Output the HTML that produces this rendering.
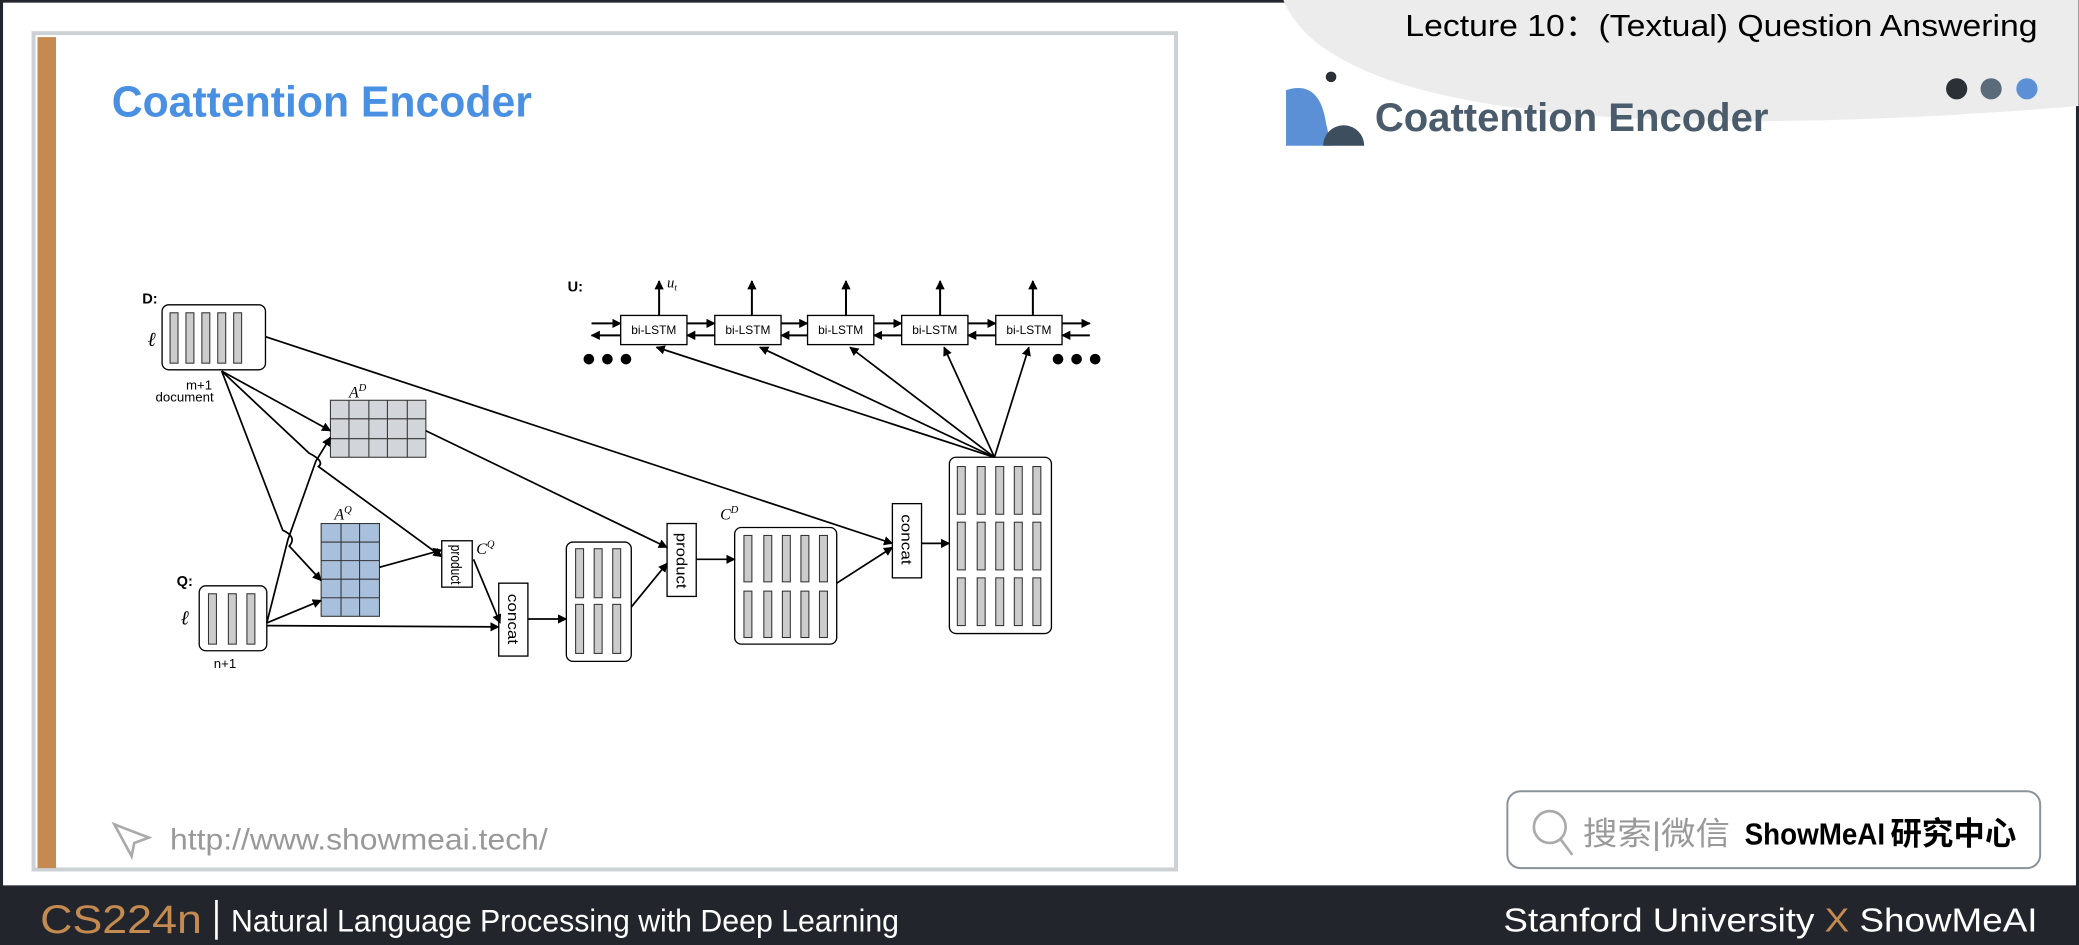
<!DOCTYPE html>
<html><head><meta charset="utf-8"><style>
html,body{margin:0;padding:0;background:#fff;overflow:hidden}
svg{display:block}
text{font-family:"Liberation Sans","Noto Sans CJK SC",sans-serif}
</style></head><body>
<svg width="2079" height="945" viewBox="0 0 1568 713" xmlns="http://www.w3.org/2000/svg">
<defs>
<marker id="ah" viewBox="0 0 10 10" refX="9" refY="5" markerWidth="7" markerHeight="7" orient="auto-start-reverse" markerUnits="userSpaceOnUse"><path d="M0,0 L10,5 L0,10 z" fill="#000"/></marker>
</defs>
<rect width="1568" height="713" fill="#fff"/>
<rect x="0" y="0" width="1568" height="713" fill="none" stroke="#22262c" stroke-width="4"/>
<path d="M968,0 C1000,80 1200,110 1568,80 L1568,0 z" fill="#ececec"/>
<text x="1060" y="27" textLength="477" lengthAdjust="spacingAndGlyphs" font-size="23" fill="#000">Lecture 10：(Textual) Question Answering</text>
<circle cx="1476" cy="67" r="8" fill="#2b2f36"/>
<circle cx="1502" cy="67" r="8" fill="#5b6b7a"/>
<circle cx="1529" cy="67" r="8" fill="#5b90d6"/>
<path d="M970,110 L970,68 Q995,60 1000,92 L1004,110 z" fill="#5b90d6"/>
<path d="M998,110 A15,15 0 0 1 1029,110 z" fill="#3d4f5f"/>
<circle cx="1004" cy="58" r="4" fill="#2b2f36"/>
<text x="1037" y="99" textLength="297" lengthAdjust="spacingAndGlyphs" font-size="30" font-weight="bold" fill="#4a5c6c">Coattention Encoder</text>
<rect x="25" y="25" width="862" height="631" fill="#fff" stroke="#ccd1d5" stroke-width="3"/>
<rect x="28" y="28" width="14" height="627" fill="#c48a4f"/>
<text x="84" y="88" textLength="317" lengthAdjust="spacingAndGlyphs" font-size="33" font-weight="bold" fill="#4a90e2">Coattention Encoder</text>
<path d="M86,622 L112,632 L101,636 L99,646 z" fill="none" stroke="#aaa" stroke-width="2"/>
<text x="128" y="641" textLength="285" lengthAdjust="spacingAndGlyphs" font-size="22" fill="#999">http://www.showmeai.tech/</text>
<rect x="1137" y="597" width="402" height="58" rx="10" fill="#fff" stroke="#8a939b" stroke-width="1.5"/>
<circle cx="1169" cy="624" r="12" fill="none" stroke="#aaa" stroke-width="2"/>
<line x1="1177" y1="633" x2="1186" y2="645" stroke="#aaa" stroke-width="2"/>
<text x="1194" y="637" textLength="111" lengthAdjust="spacingAndGlyphs" font-size="24" fill="#999">搜索|微信</text>
<text x="1316" y="637" textLength="106" lengthAdjust="spacingAndGlyphs" font-size="23" font-weight="bold" fill="#000">ShowMeAI</text>
<text x="1426" y="637" textLength="95" lengthAdjust="spacingAndGlyphs" font-size="24" font-weight="bold" fill="#000">研究中心</text>
<rect x="0" y="668" width="1568" height="45" fill="#22262c"/>
<text x="30" y="704" textLength="122" lengthAdjust="spacingAndGlyphs" font-size="30" fill="#c48a4f">CS224n</text>
<rect x="162" y="679" width="2" height="30" fill="#fff"/>
<text x="174" y="703" textLength="504" lengthAdjust="spacingAndGlyphs" font-size="24" fill="#fff">Natural Language Processing with Deep Learning</text>
<text x="1134" y="703" textLength="403" lengthAdjust="spacingAndGlyphs" font-size="25" fill="#fff">Stanford University <tspan fill="#c48a4f">X</tspan> ShowMeAI</text>

<g font-size="9" fill="#000">
<text x="107" y="229" font-weight="bold" font-size="11">D:</text>
<text x="111" y="261" font-style="italic" font-size="15" style="font-family:'Liberation Serif',serif">ℓ</text>
<text x="140" y="294" font-size="10">m+1</text>
<text x="117" y="303" font-size="10">document</text>
<text x="133" y="442" font-weight="bold" font-size="11">Q:</text>
<text x="136" y="471" font-style="italic" font-size="15" style="font-family:'Liberation Serif',serif">ℓ</text>
<text x="161" y="504" font-size="10">n+1</text>
<text x="428" y="220" font-weight="bold" font-size="11">U:</text>
<text x="503" y="217" font-style="italic" font-size="11" style="font-family:'Liberation Serif',serif">u<tspan font-size="7" dy="2">t</tspan></text>
<text x="263" y="300" font-style="italic" font-size="12" style="font-family:'Liberation Serif',serif">A<tspan font-size="8" dy="-5">D</tspan></text>
<text x="252" y="392" font-style="italic" font-size="12" style="font-family:'Liberation Serif',serif">A<tspan font-size="8" dy="-5">Q</tspan></text>
<text x="359" y="418" font-style="italic" font-size="12" style="font-family:'Liberation Serif',serif">C<tspan font-size="8" dy="-5">Q</tspan></text>
<text x="543" y="392" font-style="italic" font-size="12" style="font-family:'Liberation Serif',serif">C<tspan font-size="8" dy="-5">D</tspan></text>
</g>
<g stroke="#000" fill="none" stroke-width="1">
<rect x="122" y="230" width="78" height="49" rx="5" fill="#fff"/>
<rect x="150" y="442" width="51" height="49" rx="5" fill="#fff"/>
<rect x="427" y="409" width="49" height="90" rx="5" fill="#fff"/>
<rect x="554" y="398" width="77" height="88" rx="5" fill="#fff"/>
<rect x="716" y="345" width="77" height="133" rx="5" fill="#fff"/>
<rect x="333" y="408" width="23" height="35" fill="#fff"/>
<rect x="376" y="440" width="22" height="55" fill="#fff"/>
<rect x="503" y="395" width="22" height="55" fill="#fff"/>
<rect x="673" y="380" width="22" height="56" fill="#fff"/>
</g>
<g fill="#ccc" stroke="#333" stroke-width="0.8">
<rect x="128" y="236" width="6" height="38"/><rect x="140" y="236" width="6" height="38"/><rect x="152" y="236" width="6" height="38"/><rect x="164" y="236" width="6" height="38"/><rect x="176" y="236" width="6" height="38"/>
<rect x="157" y="448" width="6" height="38"/><rect x="172" y="448" width="6" height="38"/><rect x="186" y="448" width="6" height="38"/>
<rect x="434" y="414" width="6" height="37"/><rect x="448" y="414" width="6" height="37"/><rect x="462" y="414" width="6" height="37"/>
<rect x="434" y="456" width="6" height="37"/><rect x="448" y="456" width="6" height="37"/><rect x="462" y="456" width="6" height="37"/>
<rect x="561" y="404" width="6" height="35"/><rect x="576" y="404" width="6" height="35"/><rect x="590" y="404" width="6" height="35"/><rect x="604" y="404" width="6" height="35"/><rect x="618" y="404" width="6" height="35"/>
<rect x="561" y="446" width="6" height="35"/><rect x="576" y="446" width="6" height="35"/><rect x="590" y="446" width="6" height="35"/><rect x="604" y="446" width="6" height="35"/><rect x="618" y="446" width="6" height="35"/>
<g id="bigrow"><rect x="722" y="352" width="6" height="36"/><rect x="737" y="352" width="6" height="36"/><rect x="751" y="352" width="6" height="36"/><rect x="765" y="352" width="6" height="36"/><rect x="779" y="352" width="6" height="36"/></g>
<use href="#bigrow" y="42"/><use href="#bigrow" y="84"/>
</g>
<g stroke="#333" stroke-width="0.8">
<rect x="249" y="302" width="72" height="43" fill="#d2d6da"/>
<path d="M263,302V345M278,302V345M292,302V345M307,302V345M249,316H321M249,331H321" fill="none"/>
<rect x="242" y="395" width="44" height="70" fill="#a9c0dd"/>
<path d="M257,395V465M271,395V465M242,409H286M242,423H286M242,437H286M242,451H286" fill="none"/>
</g>
<g font-size="11" fill="#000">
<text transform="translate(340,411) rotate(90)" textLength="30" lengthAdjust="spacingAndGlyphs">product</text>
<text transform="translate(383,448) rotate(90)" textLength="38" lengthAdjust="spacingAndGlyphs">concat</text>
<text transform="translate(510,402) rotate(90)" textLength="42" lengthAdjust="spacingAndGlyphs">product</text>
<text transform="translate(680,388) rotate(90)" textLength="38" lengthAdjust="spacingAndGlyphs">concat</text>
</g>
<g stroke="#000" fill="#fff" stroke-width="1">
<rect x="468" y="238" width="50" height="22"/><rect x="539" y="238" width="50" height="22"/><rect x="609" y="238" width="50" height="22"/><rect x="680" y="238" width="50" height="22"/><rect x="751" y="238" width="50" height="22"/>
</g>
<g font-size="9" fill="#000" text-anchor="middle">
<text x="493" y="252">bi-LSTM</text><text x="564" y="252">bi-LSTM</text><text x="634" y="252">bi-LSTM</text><text x="705" y="252">bi-LSTM</text><text x="776" y="252">bi-LSTM</text>
</g>
<g stroke="#000" stroke-width="1.5" marker-end="url(#ah)">
<line x1="497" y1="238" x2="497" y2="212"/><line x1="567" y1="238" x2="567" y2="212"/><line x1="638" y1="238" x2="638" y2="212"/><line x1="709" y1="238" x2="709" y2="212"/><line x1="779" y1="238" x2="779" y2="212"/>
<line x1="446" y1="244" x2="468" y2="244"/><line x1="518" y1="244" x2="539" y2="244"/><line x1="589" y1="244" x2="609" y2="244"/><line x1="659" y1="244" x2="680" y2="244"/><line x1="730" y1="244" x2="751" y2="244"/><line x1="801" y1="244" x2="822" y2="244"/>
<line x1="468" y1="253" x2="446" y2="253"/><line x1="539" y1="253" x2="518" y2="253"/><line x1="609" y1="253" x2="589" y2="253"/><line x1="680" y1="253" x2="659" y2="253"/><line x1="751" y1="253" x2="730" y2="253"/><line x1="822" y1="253" x2="801" y2="253"/>
</g>
<g fill="#000"><circle cx="444" cy="271" r="4"/><circle cx="458" cy="271" r="4"/><circle cx="472" cy="271" r="4"/><circle cx="798" cy="271" r="4"/><circle cx="812" cy="271" r="4"/><circle cx="826" cy="271" r="4"/></g>
<g stroke="#000" stroke-width="1.3" fill="none" marker-end="url(#ah)">
<line x1="750" y1="345" x2="495" y2="262"/>
<line x1="750" y1="345" x2="573" y2="262"/>
<line x1="750" y1="345" x2="641" y2="262"/>
<line x1="750" y1="345" x2="712" y2="262"/>
<line x1="750" y1="345" x2="776" y2="262"/>
<line x1="200" y1="254" x2="673" y2="410"/>
<line x1="167" y1="280" x2="249" y2="325"/>
<path d="M167,280 L233,342 Q245,348 240,352 L333,420"/>
<path d="M167,280 L213,400 Q224,405 218,412 L242,438"/>
<path d="M201,470 L217,407 L238,348 L249,330"/>
<line x1="201" y1="470" x2="242" y2="453"/>
<line x1="201" y1="472" x2="376" y2="473"/>
<line x1="321" y1="325" x2="503" y2="413"/>
<line x1="286" y1="428" x2="333" y2="415"/>
<line x1="357" y1="422" x2="377" y2="470"/>
<line x1="398" y1="467" x2="427" y2="467"/>
<line x1="476" y1="458" x2="503" y2="425"/>
<line x1="525" y1="422" x2="554" y2="422"/>
<line x1="631" y1="440" x2="673" y2="413"/>
<line x1="695" y1="410" x2="716" y2="410"/>
</g>
</svg>
</body></html>
